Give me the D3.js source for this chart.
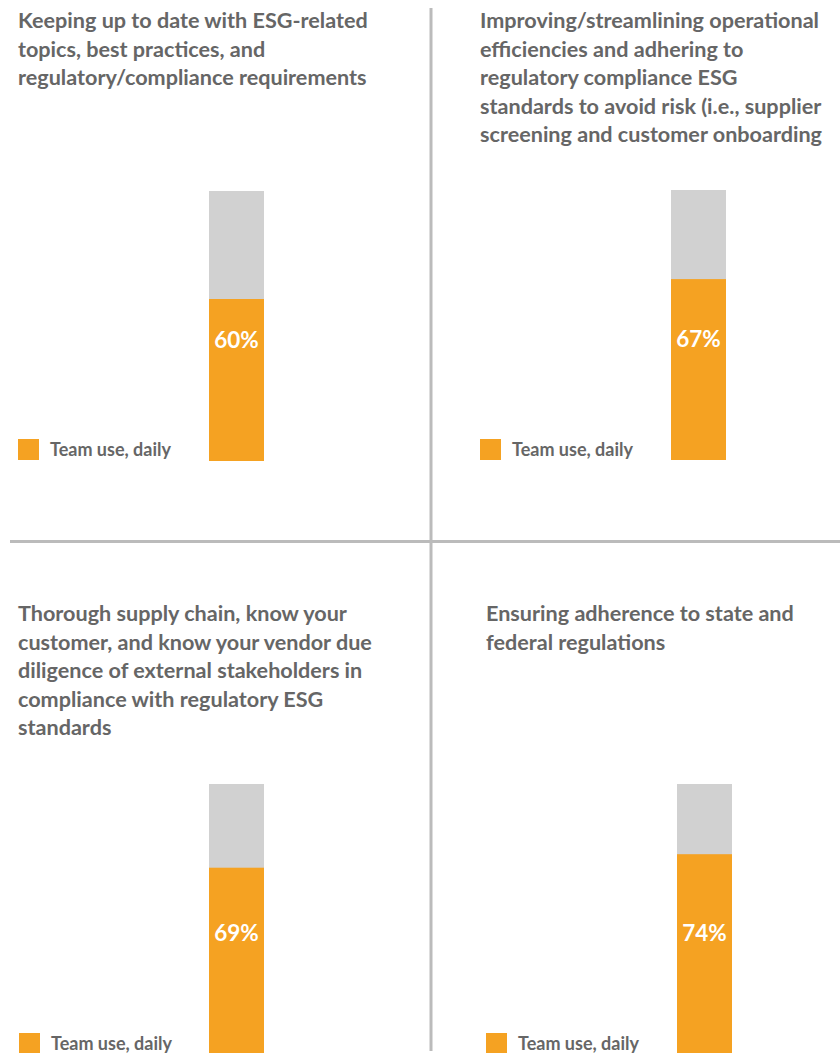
<!DOCTYPE html>
<html>
<head>
<meta charset="utf-8">
<script src="https://cdn.jsdelivr.net/npm/d3@7/dist/d3.min.js"></script>
<style>
  html, body { margin: 0; padding: 0; background: #fff; }
  svg { display: block; }
  text { font-family: Lato, "Open Sans", sans-serif; }
</style>
</head>
<body>
<svg id="chart" width="840" height="1053"></svg>
<script>
// ---- data ----
const categories = [
  ["Keeping up to date with ESG-related", "topics, best practices, and", "regulatory/compliance requirements"],
  ["Improving/streamlining operational", "efficiencies and adhering to", "regulatory compliance ESG", "standards to avoid risk (i.e., supplier", "screening and customer onboarding"],
  ["Thorough supply chain, know your", "customer, and know your vendor due", "diligence of external stakeholders in", "compliance with regulatory ESG", "standards"],
  ["Ensuring adherence to state and", "federal regulations"]
];
const teamUseDaily = [60, 67, 69, 74];
const seriesName = "Team use, daily";
const valueTicks = [0, 100];

// ---- layout ----
const panels = [
  { tx: 18, ty: 28, barX: 209, barTop: 191, legX: 18, legY: 439 },
  { tx: 480, ty: 28, barX: 671, barTop: 190, legX: 480, legY: 439 },
  { tx: 18, ty: 621, barX: 209, barTop: 784, legX: 19, legY: 1033 },
  { tx: 486, ty: 621, barX: 677, barTop: 784, legX: 486, legY: 1033 }
];
const barH = 270, barW = 55;
const orange = "#F5A222", grey = "#D1D1D1", textCol = "#666666", rule = "#BBBBBB";

const svg = d3.select("#chart");

// dividers
svg.append("line").attr("x1", 431).attr("x2", 431).attr("y1", 8).attr("y2", 1051)
  .attr("stroke", rule).attr("stroke-width", 3);
svg.append("line").attr("x1", 10).attr("x2", 840).attr("y1", 541.5).attr("y2", 541.5)
  .attr("stroke", rule).attr("stroke-width", 3);

const y = d3.scaleLinear().domain(d3.extent(valueTicks)).range([barH, 0]);

categories.forEach((lines, i) => {
  const p = panels[i];
  const v = teamUseDaily[i];
  const x = d3.scaleBand().domain([seriesName]).range([p.barX, p.barX + barW]).padding(0);
  const g = svg.append("g");

  // title
  const t = g.append("text").attr("x", p.tx).attr("y", p.ty)
    .attr("fill", textCol).attr("font-size", 21.6).attr("font-weight", 700);
  lines.forEach((ln, k) => {
    t.append("tspan").attr("x", p.tx).attr("dy", k === 0 ? 0 : 28.5).text(ln);
  });

  const bg = g.append("g").attr("transform", `translate(0,${p.barTop})`);
  // remainder (grey)
  bg.append("rect")
    .attr("x", x(seriesName)).attr("width", x.bandwidth())
    .attr("y", y(100)).attr("height", y(0) - y(100))
    .attr("fill", grey);
  // value (orange)
  bg.append("rect")
    .attr("x", x(seriesName)).attr("width", x.bandwidth())
    .attr("y", y(v)).attr("height", y(0) - y(v))
    .attr("fill", orange);
  // label
  bg.append("text")
    .attr("x", x(seriesName) + x.bandwidth() / 2).attr("y", y(45))
    .attr("text-anchor", "middle").attr("dominant-baseline", "central")
    .attr("fill", "#fff").attr("font-size", 22.5).attr("font-weight", 700)
    .text(v + "%");

  // legend
  g.append("rect").attr("x", p.legX).attr("y", p.legY).attr("width", 21).attr("height", 21)
    .attr("fill", orange);
  g.append("text").attr("x", p.legX + 32).attr("y", p.legY + 17)
    .attr("fill", textCol).attr("font-size", 18).attr("font-weight", 700)
    .text(seriesName);
});
</script>
</body>
</html>
